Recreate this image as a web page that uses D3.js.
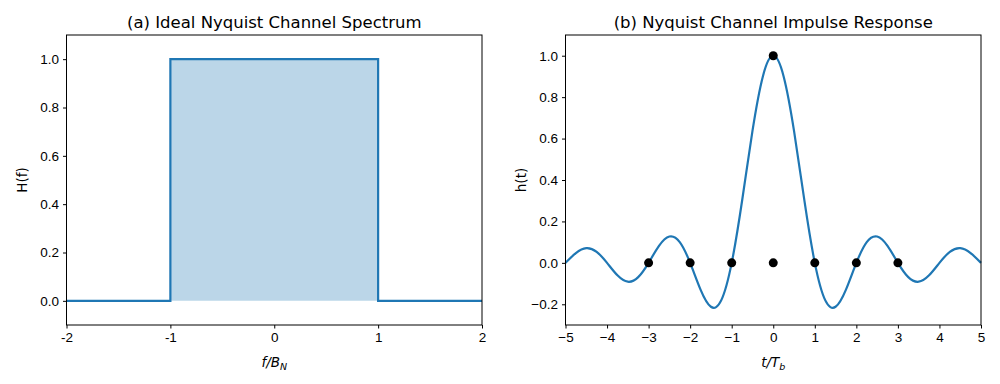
<!DOCTYPE html>
<html>
<head>
<meta charset="utf-8">
<script src="https://cdn.jsdelivr.net/npm/d3@7"></script>
<style>
  body { margin: 0; background: #fff; }
  svg { font-family: 'DejaVu Sans', sans-serif; }
</style>
</head>
<body>
<svg></svg>
<script>
// panel (a): spectrum corners
let specF = [-2, -1, -1, 1, 1, 2]
let specH = [0, 0, 1, 1, 0, 0]
let bandF = [-1, 1]
let specTicks = [-2, -1, 0, 1, 2]
let specYTicks = [0, 0.2, 0.4, 0.6, 0.8, 1.0]

// panel (b): impulse response, every 0.25
let respT = [-5, -4.75, -4.5, -4.25, -4, -3.75, -3.5, -3.25, -3, -2.75, -2.5, -2.25, -2, -1.75, -1.5, -1.25, -1, -0.75, -0.5, -0.25,
             0, 0.25, 0.5, 0.75, 1, 1.25, 1.5, 1.75, 2, 2.25, 2.5, 2.75, 3, 3.25, 3.5, 3.75, 4, 4.25, 4.5, 4.75, 5]
let respH = [0, 0.047, 0.071, 0.053, 0, -0.060, -0.091, -0.069, 0, 0.082, 0.127, 0.100, 0, -0.129, -0.212, -0.180, 0, 0.300, 0.637, 0.900,
             1, 0.900, 0.637, 0.300, 0, -0.180, -0.212, -0.129, 0, 0.100, 0.127, 0.082, 0, -0.069, -0.091, -0.060, 0, 0.053, 0.071, 0.047, 0]
let sampleT = [-3, -2, -1, 0, 1, 2, 3, 0]
let sampleH = [0, 0, 0, 0, 0, 0, 0, 1]
let respTicks = [-5, -4, -3, -2, -1, 0, 1, 2, 3, 4, 5]
let respYTicks = [-0.2, 0, 0.2, 0.4, 0.6, 0.8, 1.0]

let width = 1000
let height = 384
let plotTop = 35
let plotBottom = 325
let blue = '#1f77b4'

let svg = d3.select('svg').attr('width', width).attr('height', height)

let drawFrame = (g, x, y, xTicks, xFmt, yTicks, title, ylab, xlabMain, xlabSub) => {
    g.append('g')
        .attr('transform', 'translate(0,' + plotBottom + ')')
        .call(d3.axisBottom(x).tickValues(xTicks).tickFormat(xFmt).tickSizeOuter(0).tickSize(3.5).tickPadding(4))
    g.append('g')
        .attr('transform', 'translate(' + x.range()[0] + ',0)')
        .call(d3.axisLeft(y).tickValues(yTicks).tickFormat(d3.format('.1f')).tickSizeOuter(0).tickSize(3.5).tickPadding(4))
    g.selectAll('.tick text').style('font-size', '13.5px').attr('fill', '#000')
    g.selectAll('.domain').remove()
    g.selectAll('.tick line').attr('stroke', '#000')
    g.append('rect')
        .attr('x', x.range()[0]).attr('y', plotTop)
        .attr('width', x.range()[1] - x.range()[0]).attr('height', plotBottom - plotTop)
        .attr('fill', 'none').attr('stroke', '#000').attr('stroke-width', 1)
    let cx = (x.range()[0] + x.range()[1]) / 2
    g.append('text').attr('x', cx).attr('y', 28).attr('text-anchor', 'middle')
        .style('font-size', '16.5px').text(title)
    g.append('text')
        .attr('transform', 'translate(' + (x.range()[0] - 40) + ',' + ((plotTop + plotBottom) / 2) + ') rotate(-90)')
        .attr('text-anchor', 'middle').style('font-size', '13.5px').text(ylab)
    let xl = g.append('text').attr('x', cx).attr('y', 367).attr('text-anchor', 'middle')
        .style('font-size', '13.5px').style('font-style', 'italic')
    xl.append('tspan').text(xlabMain)
    xl.append('tspan').attr('dy', 3).style('font-size', '9.5px').text(xlabSub)
}

// ---- panel (a)
let xA = d3.scaleLinear().domain([-2, 2]).range([66.5, 482])
let yA = d3.scaleLinear().domain([-0.1, 1.1]).range([plotBottom, plotTop])
let gA = svg.append('g')

gA.append('path')
    .datum(bandF)
    .attr('fill', blue).attr('fill-opacity', 0.3)
    .attr('d', d3.area().x(d => xA(d)).y0(yA(0)).y1(yA(1)))

gA.append('path')
    .datum(specF.map((f, i) => [f, specH[i]]))
    .attr('fill', 'none').attr('stroke', blue).attr('stroke-width', 2.2)
    .attr('d', d3.line().x(d => xA(d[0])).y(d => yA(d[1])))

// left panel labels use a plain hyphen
drawFrame(gA, xA, yA, specTicks, d => String(d), specYTicks,
    '(a) Ideal Nyquist Channel Spectrum', 'H(f)', 'f/B', 'N')

// ---- panel (b)
let xB = d3.scaleLinear().domain([-5, 5]).range([565.5, 981])
let yB = d3.scaleLinear().domain([-0.3, 1.1]).range([plotBottom, plotTop])
let gB = svg.append('g')

gB.append('path')
    .datum(respT.map((t, i) => [t, respH[i]]))
    .attr('fill', 'none').attr('stroke', blue).attr('stroke-width', 2.2)
    .attr('d', d3.line().curve(d3.curveNatural).x(d => xB(d[0])).y(d => yB(d[1])))

gB.selectAll('circle')
    .data(sampleT.map((t, i) => [t, sampleH[i]]))
    .enter()
    .append('circle')
    .attr('cx', d => xB(d[0]))
    .attr('cy', d => yB(d[1]))
    .attr('r', 4.5)
    .attr('fill', '#000')

drawFrame(gB, xB, yB, respTicks, d => d3.format('d')(d).replace('-', '\u2212'), respYTicks,
    '(b) Nyquist Channel Impulse Response', 'h(t)', 't/T', 'b')
</script>
</body>
</html>
